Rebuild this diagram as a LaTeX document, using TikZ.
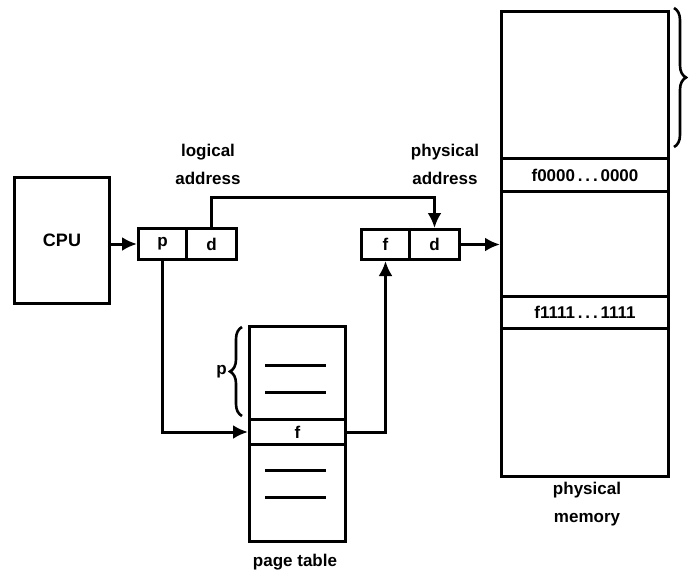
\documentclass[tikz,border=0pt]{standalone}
\usepackage{fontspec}
\setmainfont{Liberation Sans}
\usetikzlibrary{decorations.pathreplacing,arrows.meta}
\begin{document}
\begin{tikzpicture}[x=1pt,y=-1pt,
  line width=3pt,
  box/.style={draw,line width=3pt,inner sep=0pt,anchor=north west,
    font=\bfseries\fontsize{17}{18}\selectfont},
  lbl/.style={font=\bfseries\fontsize{17}{28}\selectfont,align=center,inner sep=0pt},
  arr/.style={line width=3pt,-{Latex[length=15pt,width=14pt]}},
  brc/.style={decorate,decoration={brace,amplitude=12pt},line width=2.6pt},
  entry/.style={line width=3pt}
  ]
\useasboundingbox (0,0) rectangle (692,573);
% CPU
\node[box,minimum width=95pt,minimum height=126pt,font=\bfseries\fontsize{18}{20}\selectfont] (cpu) at (13,176) {CPU};
% logical address
\node[box,minimum width=48pt,minimum height=31pt] (lp) at (137,227) {p};
\node[box,minimum width=50pt,minimum height=31pt] (ld) at (185,227) {d};
\node[lbl] (ltxt) at (208,164) {logical\\address};
% physical address
\node[box,minimum width=48pt,minimum height=30pt] (pf) at (360,228) {f};
\node[box,minimum width=50pt,minimum height=30pt] (pd) at (408,228) {d};
\node[lbl] (ptxt) at (445,164) {physical\\address};
% physical memory
\node[box,minimum width=167pt,minimum height=465pt] (mem) at (500,10) {};
\node[box,minimum width=167pt,minimum height=33pt] (m0) at (500,157) {f0000\,.\,.\,.\,0000};
\node[box,minimum width=167pt,minimum height=32pt] (m1) at (500,295) {f1111\,.\,.\,.\,1111};
\node[lbl] (mtxt) at (587,504) {physical\\memory};
% page table
\node[box,minimum width=96pt,minimum height=215pt] (pt) at (248,325) {};
\node[box,minimum width=96pt,minimum height=25pt] (ptf) at (248,418) {f};
\node[lbl] (pttxt) at (295,562) {page table};
\draw[entry] (265,365) -- (326,365);
\draw[entry] (265,392) -- (326,392);
\draw[entry] (265,470) -- (326,470);
\draw[entry] (265,497) -- (326,497);
% braces
\draw[brc] (242,416) -- (242,327) node[midway,left=14pt,lbl] (pbr) {p};
\draw[brc] (674,8) -- (674,147);
% connectors
\draw[arr] (cpu.east |- lp.west) -- (lp.west);
\draw[arr] (ld.north) -- ++(0,-30) -| (pd.north);
\draw[arr] (lp.south) |- (ptf.west);
\draw[arr] (ptf.east) -| (pf.south);
\draw[arr] (pd.east) -- (mem.west |- pd.east);
\end{tikzpicture}
\end{document}
